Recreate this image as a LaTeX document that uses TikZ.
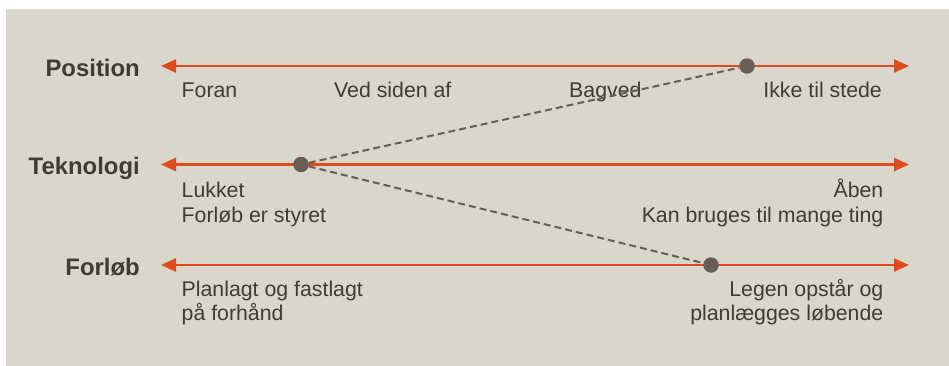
\documentclass[tikz,border=0pt]{standalone}
\usepackage{fontspec}
\setmainfont{Liberation Sans}
\usepackage{xcolor}
\usetikzlibrary{positioning, arrows.meta}

\definecolor{panel}{HTML}{D9D6CB}
\definecolor{axisred}{HTML}{E04B1B}
\definecolor{dotgray}{HTML}{665E57}
\definecolor{ink}{HTML}{403B36}

\begin{document}
\begin{tikzpicture}[x=1pt, y=-1pt, % one unit per pixel, y grows downwards
  >={Triangle[length=15pt, width=13pt]}, % filled heads on the scales
  scale line/.style={<->, line width=2.5pt, draw=axisred}, % the three orange scales
  heading/.style={font=\fontsize{23.9}{28}\selectfont\bfseries, text=ink, inner sep=0pt}, % bold names left of the scales
  note/.style={font=\fontsize{21.3}{24.5}\selectfont, text=ink, inner sep=0pt}, % small texts under the scales
  marker/.style={circle, fill=dotgray, minimum size=15.5pt, inner sep=0pt}, % chosen point on a scale
  link/.style={line width=2pt, draw=dotgray, dash pattern=on 7pt off 4pt}, % dashed profile line
]
    % background panel
    \fill[panel] (6,9) rectangle (949,366);
    \useasboundingbox (0,0) rectangle (949,366);

    % end points of the scales
    \coordinate (posL) at (161,66);
    \coordinate (posR) at (909,66);
    \coordinate (tekL) at (161,164.5);
    \coordinate (tekR) at (909,164.5);
    \coordinate (forL) at (161,265);
    \coordinate (forR) at (909,265);

    \draw[scale line] (posL) -- (posR);
    \draw[scale line] (tekL) -- (tekR);
    \draw[scale line] (forL) -- (forR);

    % names of the scales
    \node[heading, left=21pt of posL, anchor=base east, yshift=-10.5pt] (position) {Position};
    \node[heading, left=21pt of tekL, anchor=base east, yshift=-10.5pt] (teknologi) {Teknologi};
    \node[heading, left=21pt of forL, anchor=base east, yshift=-10.5pt] (forlob) {Forløb};

    % Position
    \node[note, anchor=base west] (foran) at (181.5,97.5) {Foran};
    \node[note, anchor=base west] (vedsiden) at (334,97.5) {Ved siden af};
    \node[note, anchor=base west] (bagved) at (569,97.5) {Bagved};
    \node[note, anchor=base east] (ikke) at (882,97.5) {Ikke til stede};

    % Teknologi (base = last line)
    \node[note, anchor=base west, align=left] (lukket) at (181.5,222) {Lukket\\Forløb er styret};
    \node[note, anchor=base east, align=right] (aaben) at (883.5,222) {Åben\\Kan bruges til mange ting};

    % Forløb
    \node[note, anchor=base west, align=left] (planlagt) at (181.5,320.5) {Planlagt og fastlagt\\på forhånd};
    \node[note, anchor=base east, align=right] (legen) at (883.5,320.5) {Legen opstår og\\planlægges løbende};

    % chosen profile
    \node[marker] (posdot) at (747,66) {};
    \node[marker] (tekdot) at (301,164.5) {};
    \node[marker] (fordot) at (711,265) {};

    \draw[link] (tekdot) -- (posdot);
    \draw[link] (tekdot) -- (fordot);
\end{tikzpicture}
\end{document}
